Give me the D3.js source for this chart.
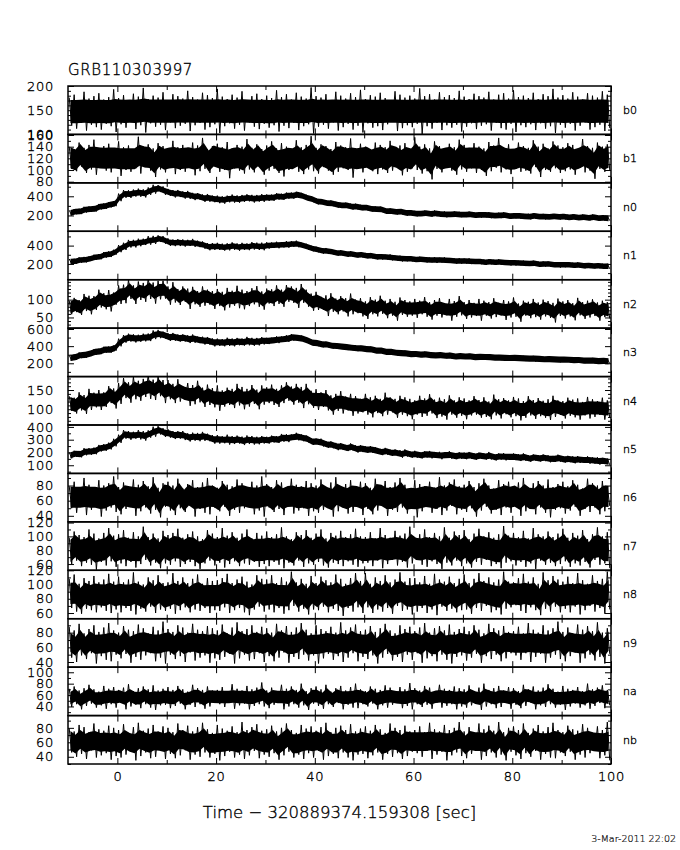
<!DOCTYPE html>
<html><head><meta charset="utf-8">
<script src="https://cdn.jsdelivr.net/npm/d3@7"></script>
<style>body{margin:0;background:#fff}svg text{font-family:"DejaVu Sans",sans-serif;font-weight:200;fill:#000;stroke:#000;stroke-width:0.35px}</style>
</head><body>
<svg id="c" width="680" height="850"></svg>
<script>
// ---------------- data ----------------
const title = "GRB110303997";
const xTitle = "Time \u2212 320889374.159308 [sec]";
const stamp = "3-Mar-2011 22:02";
const detectors = ["b0","b1","n0","n1","n2","n3","n4","n5","n6","n7","n8","n9","na","nb"];
const tStart = -10;            // start time of first 1-s bin
const xDomain = [-10, 100];
const xMajorTicks = [0, 20, 40, 60, 80, 100];
const xMinorTicks = [10, 30, 50, 70, 90];
const yDomains = [[100,200],[78,161],[35,540],[28,556],[20,156],[45,610],[59,185],[36,415],[32,96],[51,121],[52,120],[33,99],[24,109],[30,97]];
const yLabelTicks = [[100,150,200],[80,100,120,140,160],[200,400],[200,400],[50,100],[200,400,600],[100,150],[100,200,300,400],[40,60,80],[60,80,100,120],[60,80,100,120],[40,60,80],[40,60,80,100],[40,60,80]];
const yMinorSteps = [10,10,100,100,10,100,10,50,10,10,10,10,10,10];
// half-width of the solid core of each noise band (data units)
const coreHalfWidth = [24,18,30,30,17,36,17,24,14,16,15,13,11,13];

// per-second envelope (upper / lower) of flat detectors
const b0_hi = [176,182,171,188,174,179,185,172,177,193,175,181,170,184,178,196,173,180,176,187,171,183,179,174,190,177,172,186,181,175,194,178,173,182,176,189,171,179,184,173,180,175,191,177,183,172,186,178,174,197,179,176,183,171,188,180,174,185,177,192,173,181,178,186,175,170,189,182,176,180,174,195,179,183,172,187,177,181,175,190,178,173,184,179,176,188,172,182,185,174,191,177,180,175,186,173,183,179,194,176,181,174,187,178,172,185,180,176,189,182];
const b0_lo = [118,112,124,108,120,115,110,122,117,105,121,114,126,111,119,104,123,116,120,109,125,113,118,122,107,119,124,110,115,121,103,117,123,112,120,108,125,116,111,122,114,119,106,118,113,124,109,117,121,102,116,120,112,125,108,115,122,110,118,104,123,114,117,109,121,126,107,113,119,115,122,101,117,112,124,109,119,114,120,106,116,123,111,118,121,108,124,113,110,122,105,119,115,121,109,123,112,117,103,120,114,122,108,118,125,110,115,120,107,113];
const b1_hi = [140,136,147,138,143,152,137,141,145,134,149,139,142,136,157,140,144,137,146,141,135,150,139,143,138,147,142,155,136,141,145,139,148,137,143,140,153,138,144,136,142,149,137,146,140,135,151,139,143,158,138,144,141,136,148,142,139,154,137,145,140,136,147,143,139,150,138,142,146,135,156,140,144,137,149,141,136,145,139,152,143,138,146,140,137,148,142,155,139,144,136,147,141,138,151,140,145,137,149,142,139,146,143,136,153,141,138,147,140,144];
const b1_lo = [102,98,106,95,101,92,104,99,96,107,90,100,97,103,94,105,99,88,101,96,106,93,100,97,104,91,98,102,95,107,97,100,86,103,99,94,101,96,105,92,99,102,95,89,100,104,97,93,101,98,94,105,99,92,97,103,100,87,102,96,104,98,93,101,95,99,106,91,97,103,100,94,98,84,102,96,105,99,92,101,97,103,95,100,90,98,104,96,101,93,102,97,99,94,105,88,100,97,103,95,98,101,92,104,96,99,85,102,97,100];

// per-second trend (mid) and upper / lower excursions of the burst-bright detectors
const n0_mid = [228,236,246,256,266,276,287,298,310,325,390,420,428,430,433,436,450,468,478,458,440,432,425,415,408,402,395,388,380,372,367,368,370,372,375,376,378,379,381,382,384,388,394,400,406,410,412,405,390,368,350,340,331,322,314,307,302,296,290,285,279,272,265,258,251,245,240,235,230,225,221,220,219,218,217,216,214,213,212,211,209,208,206,205,204,203,201,200,199,197,195,194,193,192,191,190,189,188,187,186,185,184,183,181,180,178,177,176,174,172];
const n0_up = [26,31,24,35,28,22,33,27,30,25,38,44,35,40,47,36,42,52,39,45,37,33,41,36,48,34,39,31,44,35,40,32,37,46,34,38,43,36,33,41,35,30,38,27,33,29,36,31,26,34,28,32,25,35,29,24,31,27,33,26,30,24,28,34,22,29,26,32,25,30,27,23,31,26,35,24,28,22,30,27,25,33,23,28,26,31,22,29,34,24,27,30,23,26,32,25,28,21,29,26,31,24,27,22,30,26,33,25,28,23];
const n0_dn = [27,23,32,25,29,34,24,30,26,28,41,36,45,33,38,48,35,40,34,43,36,44,33,39,35,42,31,46,37,34,39,45,33,38,42,35,31,44,37,40,32,36,29,37,31,35,28,33,38,30,34,27,31,25,33,29,26,35,28,30,25,31,27,23,32,26,29,24,33,27,30,26,22,31,25,28,34,23,27,29,26,24,30,27,22,32,25,28,23,31,24,29,26,33,23,27,30,25,22,28,26,31,23,28,25,30,24,32,27,26];
const n1_mid = [225,232,240,250,260,270,282,295,310,330,365,395,415,425,432,440,452,465,475,460,440,432,428,430,432,428,418,405,395,390,387,386,386,387,388,389,390,392,394,397,400,403,407,411,415,418,416,405,388,370,355,346,338,330,324,318,312,306,301,296,292,287,282,277,273,269,265,261,257,254,251,249,247,245,243,241,239,237,235,233,231,229,227,225,223,221,219,217,215,213,211,209,207,205,203,201,199,197,195,193,191,189,187,185,183,181,179,177,175,173];
const n1_up = [29,24,33,27,22,31,26,35,28,25,40,36,47,38,43,35,51,41,37,44,39,34,42,37,31,45,36,40,33,38,43,35,39,48,36,41,34,46,38,35,37,31,35,28,34,30,38,27,32,29,33,27,36,30,25,32,28,34,26,31,28,33,25,30,27,35,24,29,26,32,25,30,27,23,31,26,33,28,24,29,27,32,24,29,25,30,26,34,23,28,31,25,29,26,33,24,28,30,22,27,25,30,26,32,24,28,23,31,27,29];
const n1_dn = [24,30,26,33,28,23,31,27,35,29,37,43,36,45,39,34,42,47,36,40,44,38,33,41,36,42,35,39,46,37,35,41,38,33,44,37,40,35,42,48,33,29,36,31,38,30,34,28,35,32,28,34,30,26,33,29,36,27,31,25,31,26,33,29,24,30,27,34,28,26,29,25,31,27,33,24,28,26,32,30,26,31,23,28,34,25,29,27,24,30,28,24,30,26,23,32,27,25,29,33,27,23,29,25,31,26,28,24,30,26];
const n2_mid = [79,81,84,87,90,93,95,98,101,104,112,120,121,121,121,122,123,125,126,122,117,115,113,111,109,107,106,105,104,103,103,103,102,102,103,103,104,104,105,106,107,108,110,112,114,115,114,110,103,97,93,91,89,87,85,84,83,82,81,80,79,79,78,78,77,77,77,76,76,76,76,76,75,75,75,75,75,75,74,74,74,74,74,74,74,73,73,73,73,73,73,73,73,73,73,73,73,73,73,73,73,73,73,73,73,73,73,73,72,72];
const n2_up = [18,24,15,29,21,17,33,20,26,16,28,22,35,19,30,25,38,23,27,31,20,34,17,26,22,29,18,32,24,21,27,19,31,23,36,25,20,28,33,17,24,21,30,16,27,22,19,34,25,20,29,17,23,31,18,26,21,35,19,24,16,28,22,33,20,25,17,30,23,19,26,21,32,18,24,29,15,27,22,36,19,25,17,28,23,20,31,18,26,22,33,16,24,21,29,19,27,23,18,30,22,26,17,32,20,24,28,19,25,21];
const n2_dn = [20,16,27,19,31,22,17,25,34,18,24,30,19,33,22,28,21,36,25,19,31,23,28,17,35,20,26,22,18,29,21,33,24,19,27,30,22,17,25,34,18,26,22,32,20,24,37,19,23,28,22,19,35,21,26,17,30,23,19,27,33,20,25,18,29,22,36,19,24,21,27,17,23,31,20,25,19,34,22,18,28,24,20,33,19,26,22,17,30,23,21,35,18,25,22,29,20,24,37,19,26,20,31,17,27,23,19,32,21,25];
const n3_mid = [261,275,289,302,315,329,340,352,363,378,440,489,492,494,495,496,505,525,545,530,508,503,498,492,486,481,474,466,458,450,443,444,446,447,449,451,452,454,456,458,459,465,473,482,490,496,498,485,465,445,432,424,416,408,400,394,388,383,377,372,367,359,351,344,336,329,324,319,314,310,307,304,301,298,295,292,289,286,283,281,280,278,276,274,272,270,268,266,264,262,261,259,257,255,253,251,249,247,245,243,242,240,238,236,234,232,230,228,226,224];
const n3_up = [32,27,38,30,25,35,29,41,33,28,47,40,53,44,38,49,42,58,45,39,43,51,38,46,41,55,37,44,49,40,45,39,52,42,47,38,56,43,40,48,38,33,41,30,36,44,32,39,35,29,40,31,36,28,34,30,37,27,33,31,29,35,26,32,28,37,30,25,33,29,31,27,34,29,25,32,28,36,26,30,28,33,25,30,27,35,24,31,29,26,32,27,30,25,34,28,26,31,24,29,27,32,25,30,28,24,33,26,29,27];
const n3_dn = [28,34,29,37,31,26,33,28,39,30,42,48,39,51,44,40,46,43,52,41,47,40,45,38,50,42,39,47,41,53,40,46,43,49,39,45,42,50,47,38,35,29,38,33,40,31,37,34,30,36,32,37,29,35,31,28,34,30,36,27,33,28,31,26,34,29,32,27,30,35,28,32,27,33,29,25,31,28,34,26,30,27,33,28,25,31,26,29,32,27,29,25,31,27,33,26,30,28,24,31,26,30,28,25,32,27,29,31,26,28];
const n4_mid = [113,115,117,119,121,123,126,128,131,135,143,150,151,151,152,152,154,156,157,152,148,146,145,143,142,140,139,137,135,133,131,131,131,132,132,132,133,133,134,135,135,136,137,138,139,140,140,137,133,130,127,124,121,119,117,115,114,113,112,111,110,110,109,109,108,108,108,107,107,107,106,106,106,106,106,105,105,105,105,105,105,105,104,104,104,104,104,104,104,104,104,104,104,103,103,103,103,103,103,103,103,103,103,103,103,102,102,102,102,102];
const n4_up = [21,15,27,18,32,20,24,16,29,19,25,31,19,34,22,27,36,21,30,24,28,20,33,17,26,23,35,19,29,22,31,18,25,21,34,26,20,30,17,27,22,28,16,24,31,19,26,21,33,18,25,20,29,17,23,32,19,27,22,16,30,21,26,18,35,23,19,28,24,20,17,29,22,33,19,25,21,31,18,26,23,18,30,20,27,16,34,22,25,19,28,24,17,31,21,26,19,23,32,20,18,27,22,25,16,30,24,19,28,21];
const n4_dn = [17,26,20,31,23,18,28,22,15,33,29,21,34,25,30,20,27,32,23,36,22,30,25,19,33,27,21,31,24,28,35,24,20,29,22,32,26,19,34,23,19,25,31,22,17,28,23,34,20,26,29,18,24,33,21,26,17,30,23,19,24,31,19,27,22,16,30,21,25,33,20,26,23,17,29,24,32,19,27,22,31,21,18,26,24,30,20,28,17,25,22,33,26,19,28,21,25,31,23,18,27,20,24,30,19,26,22,17,29,24];
const n5_mid = [180,186,193,201,210,220,229,240,256,272,310,338,337,336,335,334,345,360,372,360,346,340,335,330,325,321,324,322,316,309,303,301,299,298,297,296,296,297,297,298,298,302,306,311,316,321,323,318,304,292,283,275,267,259,251,244,240,236,233,230,227,221,216,211,205,200,197,194,191,188,185,184,183,182,181,180,179,178,177,176,175,174,173,172,171,170,169,168,167,166,165,163,162,160,159,157,156,154,153,151,150,148,146,144,142,140,138,135,133,130];
const n5_up = [22,28,19,33,24,18,30,25,21,35,29,37,31,26,40,33,28,42,34,30,36,27,32,38,25,34,29,39,31,27,33,26,40,30,35,28,37,32,26,31,25,30,22,34,27,20,31,24,29,18,26,33,21,28,24,30,19,35,23,27,20,29,25,17,31,22,27,24,33,21,28,19,26,30,23,25,21,32,18,26,24,30,20,27,22,34,19,25,28,21,27,23,31,18,26,22,29,24,20,32,21,26,24,28,19,30,23,27,25,22];
const n5_dn = [26,20,31,23,28,34,21,27,32,24,35,30,38,28,33,41,29,36,31,39,30,35,27,33,39,29,36,31,28,40,34,29,37,32,27,38,30,35,33,28,29,24,32,27,35,23,28,30,25,33,22,28,31,26,33,25,29,21,34,27,30,24,28,32,22,27,25,35,23,29,26,31,22,28,24,33,20,27,30,25,28,23,30,21,27,25,32,24,29,22,25,30,27,33,22,28,24,31,26,23,29,24,31,26,21,28,25,30,23,27];

const n6_hi = [79,85,76,90,81,77,87,80,83,92,78,84,76,88,81,86,79,91,77,83,85,80,89,76,82,87,78,84,90,80,77,86,81,79,88,83,76,85,80,92,82,78,87,84,77,89,81,79,86,83,80,88,76,84,91,79,82,87,78,85,83,77,89,80,86,78,84,90,81,76,87,82,79,85,77,91,80,84,88,79,81,86,78,83,89,80,76,87,82,85,79,84,90,77,83,86,80,88,78,82,85,79,87,81,76,89,83,80,86,78];
const n6_lo = [50,44,53,41,48,52,39,47,51,45,42,49,54,40,46,51,43,48,38,52,47,41,50,45,53,39,49,44,42,51,46,52,40,48,44,50,53,42,47,39,51,45,49,41,54,43,47,50,40,46,44,48,52,39,46,51,43,45,53,41,49,42,47,54,40,48,45,51,43,50,38,46,52,44,49,41,47,53,42,48,45,50,39,47,52,43,48,41,51,44,53,40,46,49,42,51,44,38,48,50,43,47,52,40,49,45,51,42,46,53];
const n7_hi = [98,107,102,99,110,104,97,105,112,101,103,109,98,106,100,114,99,104,97,108,102,105,111,98,103,107,100,96,109,104,99,112,101,106,98,104,110,97,105,101,107,99,103,113,100,96,106,102,109,98,104,110,97,105,101,108,99,103,111,100,99,106,97,112,102,98,108,101,104,114,97,103,110,99,105,100,113,98,107,102,109,96,104,111,100,106,98,103,115,101,105,99,108,97,112,103,100,107,99,104,111,98,105,101,109,96,103,113,100,106];
const n7_lo = [60,65,57,62,59,52,63,58,64,56,61,57,63,55,60,66,58,62,54,61,59,64,56,60,63,57,53,61,65,58,62,55,60,64,57,61,59,63,56,60,57,63,59,54,62,58,65,56,61,59,63,58,55,62,60,57,64,59,56,61,62,57,65,54,60,66,58,63,55,61,67,59,56,64,60,53,62,58,65,57,61,55,63,59,66,57,60,54,62,64,58,63,56,61,53,65,59,62,57,60,64,56,61,58,63,55,66,59,61,54];
const n8_hi = [108,114,101,109,105,112,103,107,115,104,111,103,107,117,104,100,110,106,113,102,103,116,105,110,102,108,114,101,109,105,106,109,115,102,107,111,104,100,113,108,107,113,102,110,104,118,103,108,101,112,102,111,106,103,114,108,101,109,116,105,116,101,110,105,113,103,107,117,104,109,109,103,112,101,115,107,104,111,102,108,114,102,108,116,105,110,103,107,118,104,103,109,115,104,110,101,117,106,112,107,104,111,102,116,106,101,113,105,108,118];
const n8_lo = [67,62,59,66,64,61,68,63,60,65,61,67,63,58,66,62,69,60,65,63,66,59,64,68,61,65,63,67,60,64,63,68,60,64,67,61,57,65,69,62,65,61,67,59,64,70,62,66,58,65,64,69,61,66,63,56,67,62,68,60,68,60,65,62,67,59,70,63,65,58,62,67,60,65,57,69,63,66,61,64,65,59,67,63,70,61,64,58,66,68,71,63,60,68,64,57,66,62,69,61,66,61,69,58,64,70,62,67,59,65];
const n9_hi = [88,83,92,79,85,90,81,87,93,83,80,89,84,82,91,86,79,88,83,95,85,81,90,87,80,92,84,82,89,86,83,91,79,87,94,82,85,90,81,88,86,80,92,83,89,81,87,93,84,79,90,85,82,88,80,94,83,87,91,82,84,89,81,86,92,83,79,90,85,88,82,87,93,80,86,89,83,91,81,85,88,82,90,84,79,92,86,83,89,81,82,88,79,93,84,80,90,83,86,95,81,87,79,91,84,89,82,94,80,86];
const n9_lo = [46,40,49,44,52,38,48,43,41,50,45,51,39,47,43,49,52,41,46,38,50,44,48,40,53,42,46,49,39,45,43,47,51,38,45,50,42,44,52,40,48,41,46,53,39,47,44,50,42,49,38,45,51,43,48,40,46,52,41,47,44,49,38,46,51,42,47,40,50,43,52,39,45,48,41,50,43,38,47,49,42,46,51,39,48,44,50,41,45,52,49,43,52,40,47,51,39,46,50,44,41,48,53,39,45,50,42,47,38,51];
const na_hi = [71,75,68,72,78,70,66,76,71,74,69,73,79,67,72,75,70,77,68,71,74,69,76,70,66,78,72,69,75,68,69,74,67,79,71,68,76,70,73,82,68,73,66,78,71,75,69,80,67,72,75,70,78,66,72,76,68,74,80,70,67,75,71,69,77,73,66,74,70,81,72,68,76,73,67,78,71,69,75,72,70,77,66,73,80,69,72,76,68,74,72,67,78,70,75,68,73,79,71,66,76,71,69,74,67,80,70,73,77,69];
const na_lo = [39,44,35,41,45,38,42,36,44,38,46,35,40,43,37,44,38,34,42,43,37,41,45,35,43,39,44,36,40,46,44,39,46,36,42,45,35,41,44,40,37,43,47,35,40,44,38,42,34,45,41,36,44,39,46,35,43,38,37,44,40,45,35,42,38,43,46,37,41,35,44,39,43,36,47,38,41,44,35,40,38,42,45,34,40,44,37,39,46,36,43,37,41,47,35,42,39,44,38,43,34,40,45,38,42,36,41,46,37,42];
const nb_hi = [79,75,84,81,74,86,78,76,83,80,77,85,73,81,87,76,79,84,75,82,80,74,86,77,83,75,81,87,78,73,84,79,76,82,74,88,77,81,85,76,78,83,75,80,86,77,73,84,79,82,76,81,87,74,80,83,77,85,75,79,82,76,84,78,73,86,80,77,83,75,77,82,74,87,78,75,84,77,80,88,75,81,73,86,78,83,76,88,74,80,82,77,86,73,79,84,75,81,87,77,74,83,78,76,85,80,73,82,77,88];
const nb_lo = [46,40,44,37,49,39,42,45,36,41,39,43,47,35,41,46,38,40,48,37,44,38,42,49,36,43,40,46,39,44,35,41,47,39,43,37,42,48,38,43,40,45,36,42,47,39,43,37,45,39,48,36,41,44,38,46,39,35,43,44,38,42,46,36,44,40,45,37,41,47,45,40,48,37,43,47,35,42,46,41,38,44,49,36,41,46,39,43,35,47,42,37,45,40,48,36,44,39,38,46,41,47,36,43,39,45,48,38,42,35];

// ---------------- drawing ----------------
const envUp = (mid, up) => mid.map((m, k) => m + up[k]);
const envDn = (mid, dn) => mid.map((m, k) => m - dn[k]);
const hiSeries = [b0_hi, b1_hi, envUp(n0_mid,n0_up), envUp(n1_mid,n1_up), envUp(n2_mid,n2_up), envUp(n3_mid,n3_up), envUp(n4_mid,n4_up), envUp(n5_mid,n5_up), n6_hi, n7_hi, n8_hi, n9_hi, na_hi, nb_hi];
const loSeries = [b0_lo, b1_lo, envDn(n0_mid,n0_dn), envDn(n1_mid,n1_dn), envDn(n2_mid,n2_dn), envDn(n3_mid,n3_dn), envDn(n4_mid,n4_dn), envDn(n5_mid,n5_dn), n6_lo, n7_lo, n8_lo, n9_lo, na_lo, nb_lo];

const svg = d3.select("#c");
const L = 68, R = 611, T = 86, B = 764;
const ph = (B - T) / detectors.length;
const x = d3.scaleLinear().domain(xDomain).range([L, R]);

svg.append("text").attr("x", L).attr("y", 75).attr("font-size", 15).attr("letter-spacing", 0.6).text(title);

detectors.forEach((name, i) => {
  const top = T + i * ph, bot = top + ph;
  const y = d3.scaleLinear().domain(yDomains[i]).range([bot, top]);
  const g = svg.append("g");
  g.append("clipPath").attr("id", "cp" + i).append("rect")
    .attr("x", L).attr("y", top).attr("width", R - L).attr("height", ph);
  const data = hiSeries[i].map((h, k) => ({ t: tStart + k + 0.5, hi: h, lo: loSeries[i][k] }));
  const c = coreHalfWidth[i];
  // solid core of the band
  g.append("path").datum(data).attr("clip-path", `url(#cp${i})`)
    .attr("fill", "#000")
    .attr("d", d3.area().x(d => x(d.t))
      .y0(d => y((d.hi + d.lo) / 2 - c)).y1(d => y((d.hi + d.lo) / 2 + c)));
  // excursions: upper and lower extreme of each 1-s bin
  const zig = data.flatMap(d => [[d.t - 0.25, d.hi], [d.t + 0.25, d.lo]]);
  g.append("path").datum(zig).attr("clip-path", `url(#cp${i})`)
    .attr("fill", "none").attr("stroke", "#000").attr("stroke-width", 1)
    .attr("d", d3.line().x(p => x(p[0])).y(p => y(p[1])));

  const [d0, d1] = yDomains[i];
  const st = yMinorSteps[i];
  const minor = d3.range(Math.ceil(d0 / st) * st, d1 + 1e-9, st).filter(v => !yLabelTicks[i].includes(v));
  const styl = s => { s.select(".domain").remove(); s.selectAll("line").attr("stroke", "#000").attr("stroke-width", 1); };
  const txt = s => s.selectAll("text").attr("font-size", 13).attr("letter-spacing", 0.7)
    .attr("font-family", "DejaVu Sans").attr("font-weight", 200);
  g.append("g").attr("transform", `translate(${L},0)`)
    .call(d3.axisLeft(y).tickValues(yLabelTicks[i]).tickSize(-6).tickPadding(14).tickFormat(d3.format("d")))
    .call(styl).call(txt);
  g.append("g").attr("transform", `translate(${L},0)`)
    .call(d3.axisLeft(y).tickValues(minor).tickSize(-3).tickFormat("")).call(styl);
  g.append("g").attr("transform", `translate(${R},0)`)
    .call(d3.axisRight(y).tickValues(yLabelTicks[i]).tickSize(-6).tickFormat("")).call(styl);
  g.append("g").attr("transform", `translate(${R},0)`)
    .call(d3.axisRight(y).tickValues(minor).tickSize(-3).tickFormat("")).call(styl);

  g.append("g").attr("transform", `translate(0,${top})`)
    .call(d3.axisTop(x).tickValues(xMajorTicks).tickSize(-6).tickFormat("")).call(styl);
  g.append("g").attr("transform", `translate(0,${top})`)
    .call(d3.axisTop(x).tickValues(xMinorTicks).tickSize(-4).tickFormat("")).call(styl);
  const last = i === detectors.length - 1;
  g.append("g").attr("transform", `translate(0,${bot})`)
    .call(d3.axisBottom(x).tickValues(xMajorTicks).tickSize(-6).tickPadding(8)
      .tickFormat(last ? d3.format("d") : ""))
    .call(styl).call(txt);
  g.append("g").attr("transform", `translate(0,${bot})`)
    .call(d3.axisBottom(x).tickValues(xMinorTicks).tickSize(-4).tickFormat("")).call(styl);

  g.append("rect").attr("x", L).attr("y", top).attr("width", R - L).attr("height", ph)
    .attr("fill", "none").attr("stroke", "#000").attr("stroke-width", 1.5);

  g.append("text").attr("x", 623).attr("y", (top + bot) / 2).attr("dy", "0.35em")
    .attr("font-size", 11).text(name);
});

svg.append("text").attr("x", (L + R) / 2).attr("y", 818).attr("text-anchor", "middle")
  .attr("font-size", 16.5).text(xTitle);
svg.append("text").attr("x", 676).attr("y", 842).attr("text-anchor", "end")
  .attr("font-size", 9.5).attr("style", "stroke-width:0.2px").text(stamp);
</script>
</body></html>
